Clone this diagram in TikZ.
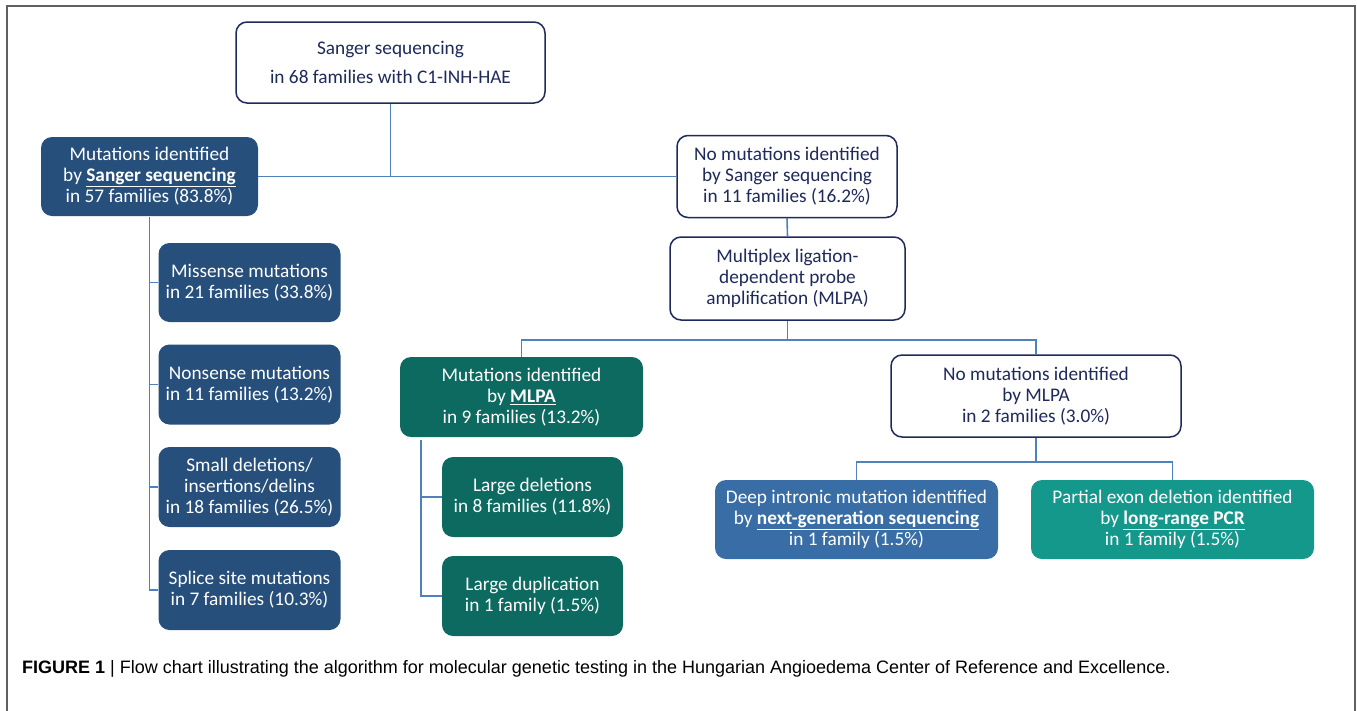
\documentclass[tikz,border=0pt]{standalone}
\usepackage{fontspec}
\setmainfont{Carlito}
\newfontfamily\capfont{Liberation Sans}
\definecolor{navy}{HTML}{1F2A5C}
\definecolor{dblue}{HTML}{264F7B}
\definecolor{dteal}{HTML}{0C6A60}
\definecolor{mblue}{HTML}{386DA6}
\definecolor{lteal}{HTML}{14988C}
\definecolor{conn}{HTML}{4F81BD}
\definecolor{frame}{HTML}{606060}
\tikzset{
  base/.style={rounded corners=11pt, align=center, inner sep=0pt,
    font=\fontsize{19.3}{21}\selectfont},
  wbox/.style={base, draw=navy, line width=1.5pt, fill=white, text=navy},
  fbox/.style={base, text=white, fill=#1},
  conline/.style={draw=conn, line width=1.6pt},
}
\begin{document}
\begin{tikzpicture}[x=1pt,y=-1pt]
\useasboundingbox (0,0) rectangle (1357,710);
\draw[frame, line width=1.8pt] (7,712) -- (7,6) -- (1355,6) -- (1355,712);

\node[wbox, minimum width=309pt, minimum height=81pt, font=\fontsize{19.3}{29}\selectfont] (top) at (390.5,62.5)
  {Sanger sequencing\\in 68 families with C1-INH-HAE};
\node[fbox=dblue, minimum width=217pt, minimum height=79pt] (sanger) at (149.5,176.5)
  {Mutations identified\\by \underline{\textbf{Sanger sequencing}}\\in 57 families (83.8\%)};
\node[wbox, minimum width=220pt, minimum height=82pt] (nosanger) at (787,176.5)
  {No mutations identified\\by Sanger sequencing\\in 11 families (16.2\%)};
\node[wbox, minimum width=235pt, minimum height=83pt] (mlpa) at (787.5,278.5)
  {Multiplex ligation-\\dependent probe\\amplification (MLPA)};

\node[fbox=dblue, minimum width=182pt, minimum height=79pt] (m1) at (249.5,282.5)
  {Missense mutations\\in 21 families (33.8\%)};
\node[fbox=dblue, minimum width=182pt, minimum height=80pt] (m2) at (249.5,384.5)
  {Nonsense mutations\\in 11 families (13.2\%)};
\node[fbox=dblue, minimum width=182pt, minimum height=80pt] (m3) at (249.5,487)
  {Small deletions/\\insertions/delins\\in 18 families (26.5\%)};
\node[fbox=dblue, minimum width=182pt, minimum height=80pt] (m4) at (249.5,590)
  {Splice site mutations\\in 7 families (10.3\%)};

\node[fbox=dteal, minimum width=243pt, minimum height=80pt] (mlpay) at (521.5,397)
  {Mutations identified\\by \underline{\textbf{MLPA}}\\in 9 families (13.2\%)};
\node[wbox, minimum width=290pt, minimum height=82pt] (mlpan) at (1036,396)
  {No mutations identified\\by MLPA\\in 2 families (3.0\%)};

\node[fbox=dteal, minimum width=181pt, minimum height=80pt] (ld) at (532.5,497)
  {Large deletions\\in 8 families (11.8\%)};
\node[fbox=dteal, minimum width=181pt, minimum height=80pt] (ldup) at (532.5,596)
  {Large duplication\\in 1 family (1.5\%)};

\node[fbox=mblue, minimum width=283pt, minimum height=79pt] (ngs) at (856.5,519.5)
  {Deep intronic mutation identified\\by \underline{\textbf{next-generation sequencing}}\\in 1 family (1.5\%)};
\node[fbox=lteal, minimum width=283pt, minimum height=79pt] (pcr) at (1172.5,519.5)
  {Partial exon deletion identified\\by \underline{\textbf{long-range PCR}}\\in 1 family (1.5\%)};

% connectors
\coordinate (j0) at (390.5,176.5);
\coordinate (j1) at (787.5,340);
\coordinate (j2) at (1036,462);
\coordinate (v1) at (149.5,217);
\coordinate (v2) at (421,440);

\draw[conline] (sanger.east) -- (nosanger.west);
\draw[conline] (top.south) -- (j0);
\draw[conline] (nosanger.south) -- (mlpa.north);
\draw[conline] (mlpa.south) -- (j1);
\draw[conline] (mlpay.north) |- (j1) -| (mlpan.north);
\draw[conline] (mlpan.south) -- (j2);
\draw[conline] (ngs.north) |- (j2) -| (pcr.north);
\draw[conline] (v1) |- (m4.west);
\draw[conline] (v1 |- m1.west) -- (m1.west);
\draw[conline] (v1 |- m2.west) -- (m2.west);
\draw[conline] (v1 |- m3.west) -- (m3.west);
\draw[conline] (v2) |- (ldup.west);
\draw[conline] (v2 |- ld.west) -- (ld.west);

\node[anchor=base west, inner sep=0pt, font=\capfont\fontsize{18}{20}\selectfont] (cap) at (22,673)
  {\textbf{FIGURE 1} | Flow chart illustrating the algorithm for molecular genetic testing in the Hungarian Angioedema Center of Reference and Excellence.};
\end{tikzpicture}
\end{document}
